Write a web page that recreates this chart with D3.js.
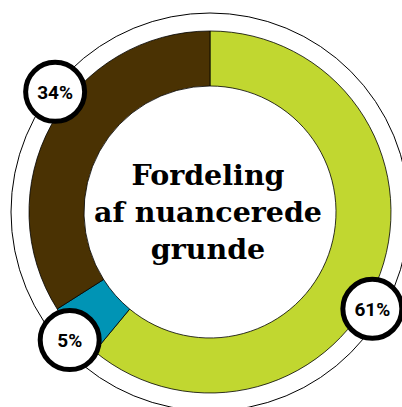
<!DOCTYPE html>
<head>
  <meta charset="utf-8">
  <script src="https://d3js.org/d3.v7.min.js"></script>
  <style>
    body { margin:0; background:#fff; }
    svg { display:block; }
  </style>
</head>
<body>
  <svg width="402" height="407"></svg>
  <script>
    // data
    var categories = ['Nuanceret A', 'Nuanceret B', 'Nuanceret C'];
    var values = [61, 5, 34];
    var labels = ['61%', '5%', '34%'];
    var colors = ['#c1d730', '#0094b5', '#4a3203'];
    var titleLines = ['Fordeling', 'af nuancerede', 'grunde'];

    var cx = 210, cy = 212;
    var rOuter = 181, rInner = 126, rRing = 199;

    var svg = d3.select('svg');
    var g = svg.append('g').attr('transform', 'translate(' + [cx, cy] + ')');

    // thin outer ring
    g.append('circle')
      .attr('r', rRing)
      .attr('fill', 'none')
      .attr('stroke', '#000')
      .attr('stroke-width', 1);

    var pie = d3.pie().sort(null).value(d => d.value);
    var data = categories.map((c, i) => ({name: c, value: values[i], label: labels[i], color: colors[i]}));
    var arcs = pie(data);

    var arc = d3.arc().innerRadius(rInner).outerRadius(rOuter);

    g.selectAll('path.slice')
      .data(arcs)
      .enter().append('path')
      .attr('class', 'slice')
      .attr('d', arc)
      .attr('fill', d => d.data.color)
      .attr('stroke', '#000')
      .attr('stroke-width', 0.8);

    // label bubbles, nudged along the ring a bit
    var shift = [11, -1, 9]; // degrees
    var rLab = [189, 190, 196];
    var lab = g.selectAll('g.lab')
      .data(arcs)
      .enter().append('g')
      .attr('class', 'lab')
      .attr('transform', (d, i) => {
        var a = (d.startAngle + d.endAngle) / 2 + shift[i] * Math.PI / 180;
        return 'translate(' + [Math.sin(a) * rLab[i], -Math.cos(a) * rLab[i]] + ')';
      });

    lab.append('circle')
      .attr('r', 29.5)
      .attr('fill', '#fff')
      .attr('stroke', '#000')
      .attr('stroke-width', 5);

    lab.append('text')
      .attr('text-anchor', 'middle')
      .attr('dy', '0.36em')
      .style('font-family', 'Roboto, sans-serif')
      .style('font-weight', 'bold')
      .style('font-size', '19px')
      .text(d => d.data.label);

    // centre title
    g.append('text')
      .attr('text-anchor', 'middle')
      .style('font-family', '"DejaVu Serif", serif')
      .style('font-weight', 'bold')
      .style('font-size', '28.5px')
      .selectAll('tspan')
      .data(titleLines)
      .enter().append('tspan')
      .attr('x', -2)
      .attr('y', (d, i) => -27 + i * 37)
      .text(d => d);
  </script>
</body>
